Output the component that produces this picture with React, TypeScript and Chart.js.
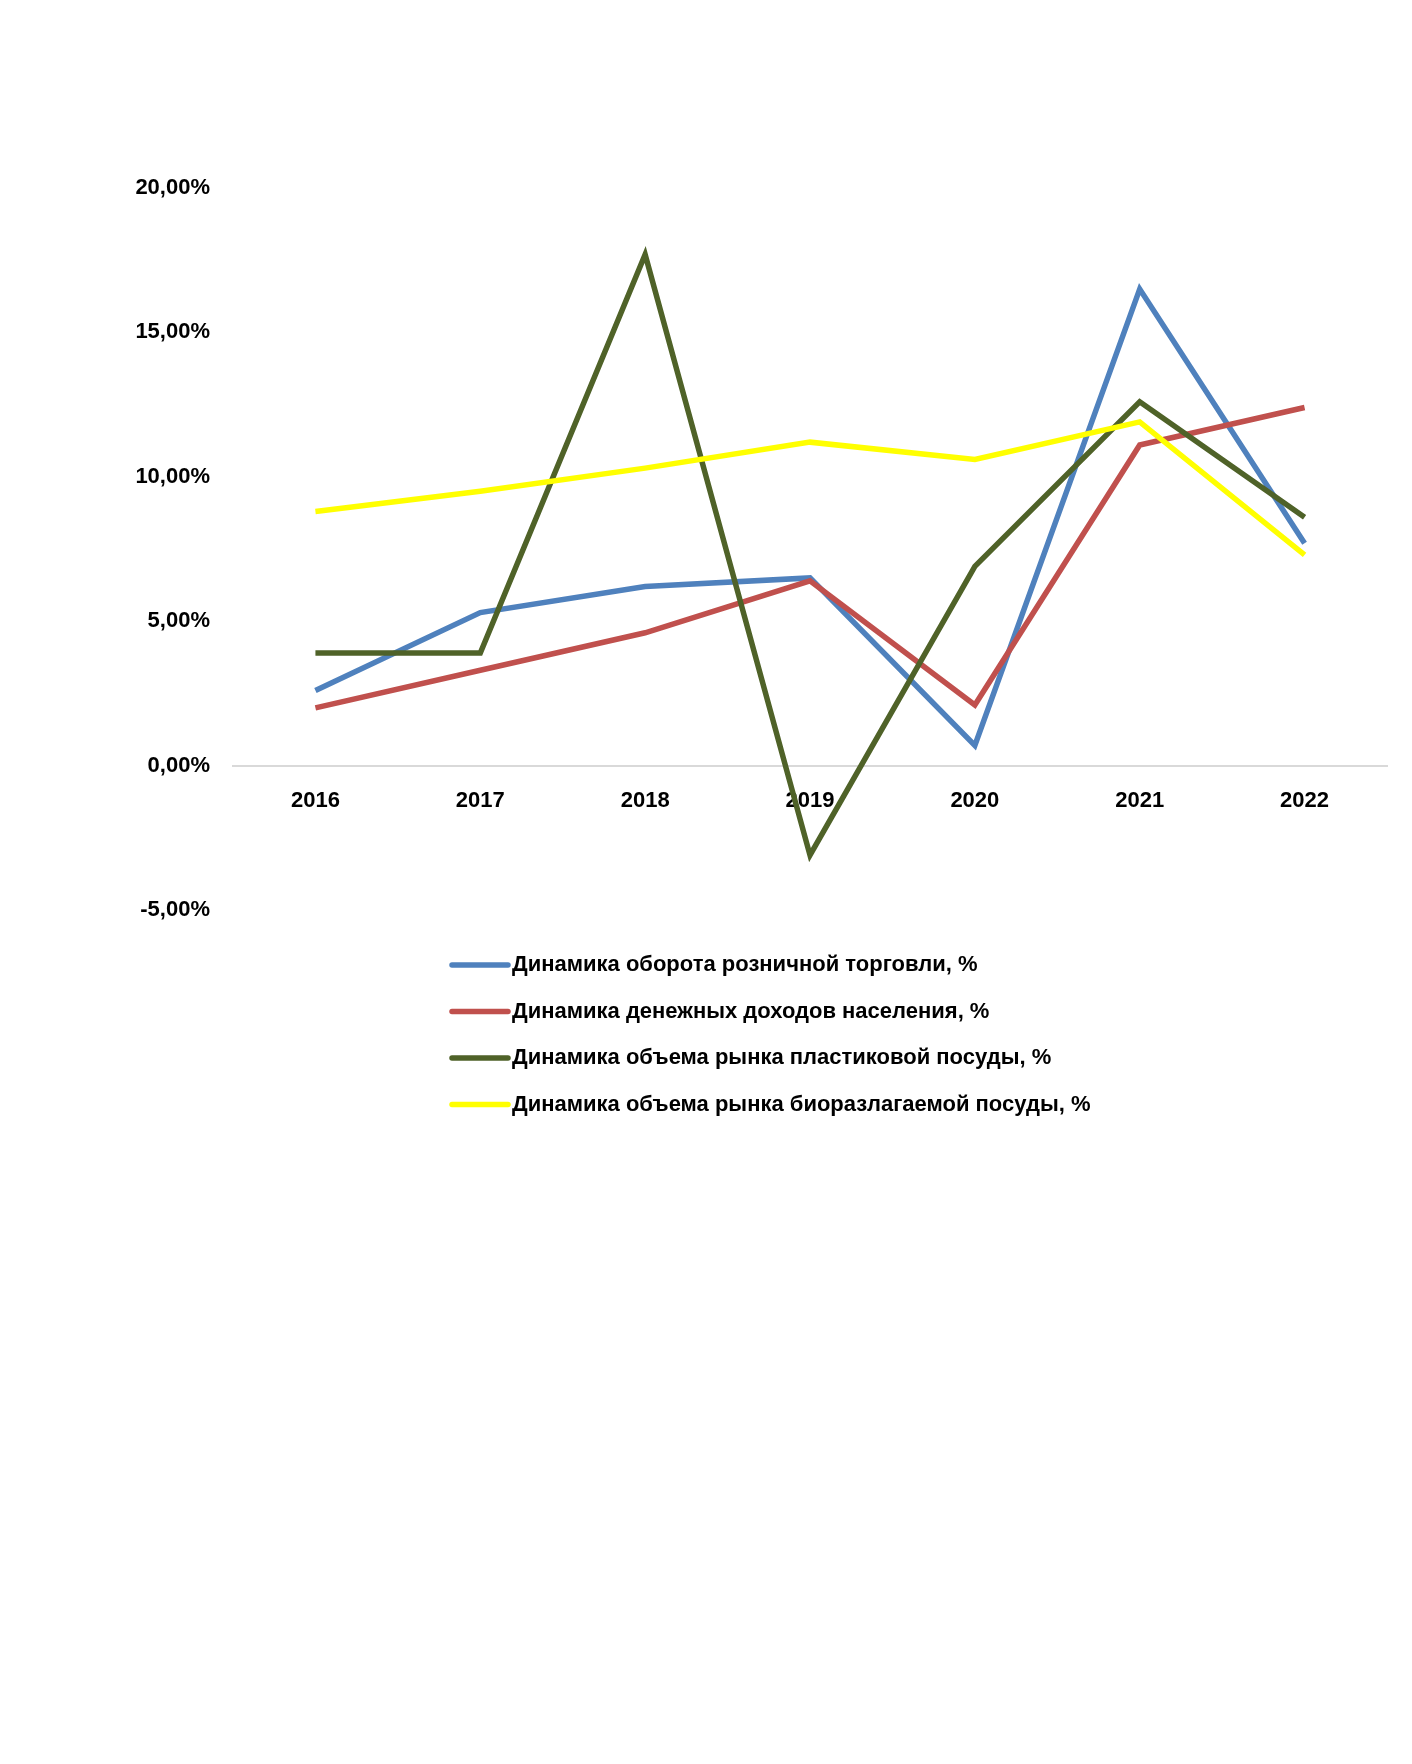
import React, { useEffect, useRef } from "react";
import { Chart, registerables } from "chart.js";

Chart.register(...registerables);

const years = ["2016", "2017", "2018", "2019", "2020", "2021", "2022"];

const seriesNames = [
  "Динамика оборота розничной торговли, %",
  "Динамика денежных доходов населения, %",
  "Динамика объема рынка пластиковой посуды, %",
  "Динамика объема рынка биоразлагаемой посуды, %",
];

const retailTurnover = [2.6, 5.3, 6.2, 6.5, 0.7, 16.5, 7.7];
const cashIncome = [2.0, 3.3, 4.6, 6.4, 2.1, 11.1, 12.4];
const plasticMarket = [3.9, 3.9, 17.7, -3.1, 6.9, 12.6, 8.6];
const bioMarket = [8.8, 9.5, 10.3, 11.2, 10.6, 11.9, 7.3];

const seriesColors = ["#4F81BD", "#C0504D", "#4F6228", "#FFFF00"];

const yMin = -5;
const yMax = 20;
const yStep = 5;

const FONT = "'Liberation Sans', Arial, sans-serif";

const legendPlugin = {
  id: "verticalLegend",
  afterDraw(chart: any) {
    const ctx = chart.ctx;
    const ds = chart.data.datasets;
    ctx.save();
    ds.forEach((d: any, i: number) => {
      const y = 957 + i * 46.5;
      ctx.strokeStyle = d.borderColor;
      ctx.lineWidth = 5.5;
      ctx.lineCap = "round";
      ctx.beginPath();
      ctx.moveTo(444, y);
      ctx.lineTo(500, y);
      ctx.stroke();
      ctx.fillStyle = "#000";
      ctx.font = `bold 22px ${FONT}`;
      ctx.textBaseline = "middle";
      ctx.textAlign = "left";
      ctx.fillText(d.label, 504, y);
    });
    ctx.restore();
  },
};

export default function App() {
  const ref = useRef<HTMLCanvasElement | null>(null);

  useEffect(() => {
    if (!ref.current) return;
    const values = [retailTurnover, cashIncome, plasticMarket, bioMarket];
    const chart = new Chart(ref.current, {
      type: "line",
      data: {
        labels: years,
        datasets: values.map((v, i) => ({
          label: seriesNames[i],
          data: v,
          borderColor: seriesColors[i],
          backgroundColor: seriesColors[i],
          borderWidth: 5.5,
          pointRadius: 0,
          tension: 0,
          fill: false,
          order: 4 - i,
        })),
      },
      options: {
        animation: false,
        responsive: false,
        maintainAspectRatio: false,
        layout: { padding: { left: 125, right: 17, top: 180, bottom: 846 } },
        plugins: {
          legend: { display: false },
          tooltip: { enabled: false },
          title: { display: false },
        },
        scales: {
          x: {
            type: "category",
            position: { y: 0 } as any,
            offset: true,
            grid: { display: false, drawTicks: false },
            border: { display: true, color: "#D9D9D9", width: 2 },
            ticks: {
              color: "#000",
              padding: 22,
              font: { family: FONT, size: 22, weight: "bold" },
              maxRotation: 0,
            },
          },
          y: {
            min: yMin,
            max: yMax,
            grid: { display: false, drawTicks: false },
            border: { display: false },
            afterFit: (scale: any) => {
              scale.width = 100;
            },
            ticks: {
              stepSize: yStep,
              padding: 23,
              color: "#000",
              font: { family: FONT, size: 22, weight: "bold" },
              callback: (v: any) => Number(v).toFixed(2).replace(".", ",") + "%",
            },
          },
        },
      },
      plugins: [legendPlugin],
    });
    return () => chart.destroy();
  }, []);

  return (
    <div style={{ width: 1396, height: 1748, position: "relative" }}>
      <canvas ref={ref} width={1396} height={1748} style={{ display: "block" }} />
    </div>
  );
}
